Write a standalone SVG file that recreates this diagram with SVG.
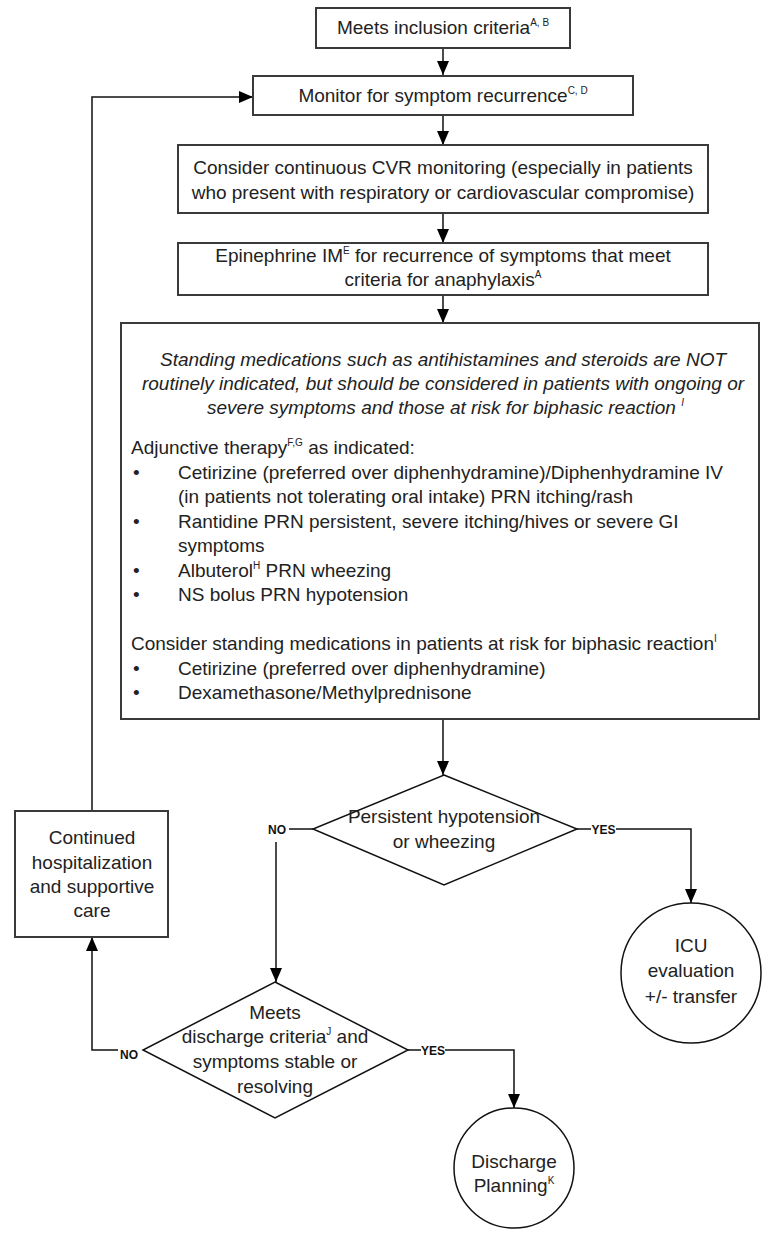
<svg xmlns="http://www.w3.org/2000/svg" width="772" height="1236" viewBox="0 0 772 1236">
<defs>
<marker id="arr" viewBox="0 0 14 12" refX="14" refY="6" markerWidth="14" markerHeight="12" markerUnits="userSpaceOnUse" orient="auto">
<path d="M0,0 L14,6 L0,12 z" fill="#000"/>
</marker>
<style>
.box{fill:#fff;stroke:#3a3a3a;stroke-width:2}
.shape{fill:#fff;stroke:#111;stroke-width:1.5}
.t{font-family:"Liberation Sans",Arial,sans-serif;font-size:19px;fill:#222}
.c{text-anchor:middle}
.i{font-style:italic}
.sup{font-size:10px}
.lab{font-family:"Liberation Sans",Arial,sans-serif;font-size:12px;font-weight:bold;fill:#111;text-anchor:middle}
.con{fill:none;stroke:#111;stroke-width:1.5}
</style>
</defs>
<rect width="772" height="1236" fill="#fff"/>

<g id="connectors">
<line class="con" x1="443" y1="48" x2="443" y2="75" marker-end="url(#arr)"/>
<line class="con" x1="443" y1="115" x2="443" y2="145" marker-end="url(#arr)"/>
<line class="con" x1="443" y1="213" x2="443" y2="243" marker-end="url(#arr)"/>
<line class="con" x1="443" y1="295" x2="443" y2="323" marker-end="url(#arr)"/>
<line class="con" x1="443" y1="719" x2="443" y2="775" marker-end="url(#arr)"/>
<path class="con" d="M92,811 L92,97 L253,97" marker-end="url(#arr)"/>
<line class="con" x1="577" y1="829" x2="591" y2="829"/>
<text class="lab" x="603.5" y="833.5">YES</text>
<path class="con" d="M616,829 L691,829 L691,903" marker-end="url(#arr)"/>
<line class="con" x1="313" y1="829" x2="289" y2="829"/>
<text class="lab" x="277" y="833.5">NO</text>
<path class="con" d="M276,842 L276,982" marker-end="url(#arr)"/>
<path class="con" d="M118,1050 L92,1050 L92,937" marker-end="url(#arr)"/>
<text class="lab" x="129" y="1059">NO</text>
<line class="con" x1="408" y1="1050" x2="421" y2="1050"/>
<text class="lab" x="433" y="1055">YES</text>
<path class="con" d="M445,1050 L514,1050 L514,1108" marker-end="url(#arr)"/>
</g>

<g id="inclusion">
<rect class="box" x="316" y="8" width="254" height="40"/>
<text class="t c" x="443" y="34">Meets inclusion criteria<tspan class="sup" dy="-8">A, B</tspan></text>
</g>

<g id="monitor">
<rect class="box" x="253" y="76" width="380" height="39"/>
<text class="t c" x="443" y="102">Monitor for symptom recurrence<tspan class="sup" dy="-8">C, D</tspan></text>
</g>

<g id="cvr">
<rect class="box" x="178" y="145" width="530" height="68"/>
<text class="t c" x="443" y="174">Consider continuous CVR monitoring (especially in patients</text>
<text class="t c" x="443" y="199">who present with respiratory or cardiovascular compromise)</text>
</g>

<g id="epinephrine">
<rect class="box" x="178" y="243" width="530" height="52"/>
<text class="t c" x="443" y="262">Epinephrine IM<tspan class="sup" dy="-8">E</tspan><tspan dy="8"> for recurrence of symptoms that meet</tspan></text>
<text class="t c" x="443" y="286">criteria for anaphylaxis<tspan class="sup" dy="-8">A</tspan></text>
</g>

<g id="medications">
<rect class="box" x="121" y="323" width="638" height="396"/>
<text class="t c i" x="443" y="366">Standing medications such as antihistamines and steroids are NOT</text>
<text class="t c i" x="443" y="390">routinely indicated, but should be considered in patients with ongoing or</text>
<text class="t i" x="207" y="414">severe symptoms and those at risk for biphasic reaction <tspan class="sup" dy="-8">I</tspan></text>
<text class="t" x="131" y="454">Adjunctive therapy<tspan class="sup" dy="-8">F,G</tspan><tspan dy="8"> as indicated:</tspan></text>
<text class="t" x="133" y="478.5">•</text>
<text class="t" x="178" y="478.5">Cetirizine (preferred over diphenhydramine)/Diphenhydramine IV</text>
<text class="t" x="178" y="503">(in patients not tolerating oral intake) PRN itching/rash</text>
<text class="t" x="133" y="527.5">•</text>
<text class="t" x="178" y="527.5">Rantidine PRN persistent, severe itching/hives or severe GI</text>
<text class="t" x="178" y="552">symptoms</text>
<text class="t" x="133" y="576.5">•</text>
<text class="t" x="178" y="576.5">Albuterol<tspan class="sup" dy="-8">H</tspan><tspan dy="8"> PRN wheezing</tspan></text>
<text class="t" x="133" y="601">•</text>
<text class="t" x="178" y="601">NS bolus PRN hypotension</text>
<text class="t" x="131" y="650">Consider standing medications in patients at risk for biphasic reaction<tspan class="sup" dy="-8">I</tspan></text>
<text class="t" x="133" y="674.5">•</text>
<text class="t" x="178" y="674.5">Cetirizine (preferred over diphenhydramine)</text>
<text class="t" x="133" y="699">•</text>
<text class="t" x="178" y="699">Dexamethasone/Methylprednisone</text>
</g>

<g id="decision-hypotension">
<polygon class="shape" points="444,775 577,829 444,885 313,829"/>
<text class="t c" x="444" y="823">Persistent hypotension</text>
<text class="t c" x="444" y="848">or wheezing</text>
</g>

<g id="icu">
<circle class="shape" cx="691" cy="973" r="70"/>
<text class="t c" x="691" y="952">ICU</text>
<text class="t c" x="691" y="977">evaluation</text>
<text class="t c" x="691" y="1003">+/- transfer</text>
</g>

<g id="continued">
<rect class="box" x="15" y="811" width="153" height="126"/>
<text class="t c" x="92" y="844">Continued</text>
<text class="t c" x="92" y="869">hospitalization</text>
<text class="t c" x="92" y="893">and supportive</text>
<text class="t c" x="92" y="917">care</text>
</g>

<g id="decision-discharge">
<polygon class="shape" points="275,982 408,1050 275,1118 143,1050"/>
<text class="t c" x="275" y="1019">Meets</text>
<text class="t c" x="275" y="1043">discharge criteria<tspan class="sup" dy="-8">J</tspan><tspan dy="8"> and</tspan></text>
<text class="t c" x="275" y="1068">symptoms stable or</text>
<text class="t c" x="275" y="1093">resolving</text>
</g>

<g id="discharge">
<circle class="shape" cx="514" cy="1168" r="60"/>
<text class="t c" x="514" y="1168">Discharge</text>
<text class="t c" x="514" y="1192">Planning<tspan class="sup" dy="-8">K</tspan></text>
</g>
</svg>
